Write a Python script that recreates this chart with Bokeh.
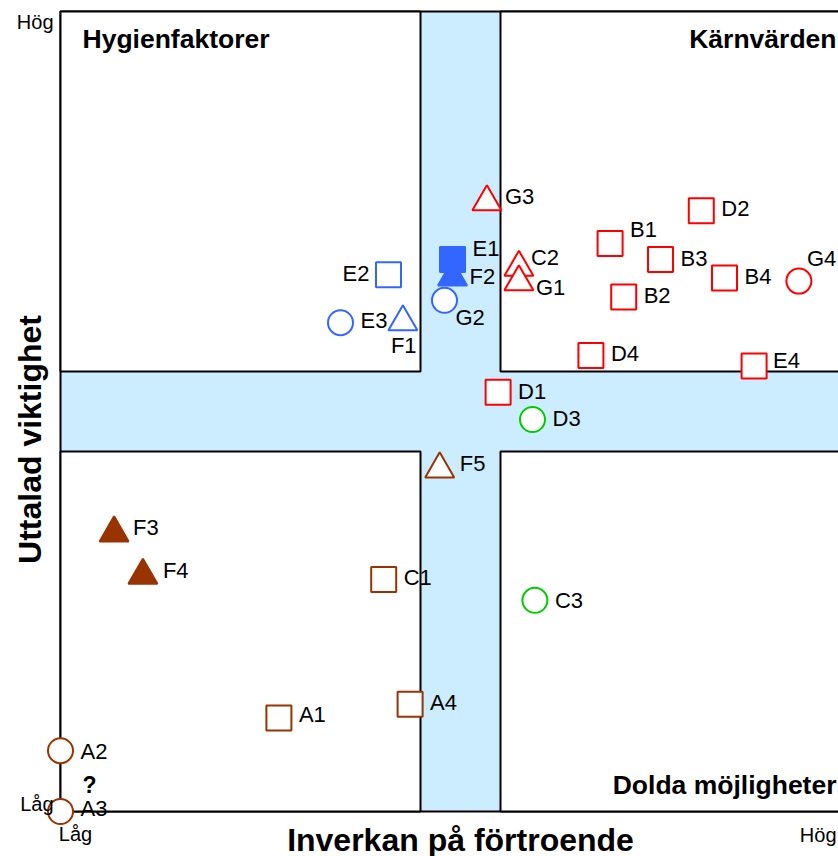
import numpy as np
from bokeh.plotting import figure
from bokeh.models import ColumnDataSource, Range1d
from bokeh.core.properties import value
from bokeh.embed import file_html
from bokeh.resources import INLINE

# ---------------- data ----------------
names = ["G3", "C2", "G1", "F2", "E1", "G2", "E2", "E3", "F1",
         "D2", "B1", "B3", "B4", "B2", "G4", "D4", "E4", "D1",
         "D3", "F5", "F3", "F4", "C1", "C3", "A1", "A4", "A2", "A3"]
x_vals = [5.33, 5.73, 5.73, 4.90, 4.90, 4.80, 4.10, 3.50, 4.28,
          8.01, 6.87, 7.50, 8.30, 7.04, 9.23, 6.63, 8.67, 5.47,
          5.90, 4.74, 0.67, 1.03, 4.04, 5.93, 2.73, 4.37, 0.00, 0.00]
y_vals = [7.62, 6.80, 6.62, 6.68, 6.90, 6.39, 6.71, 6.11, 6.12,
          7.51, 7.10, 6.90, 6.67, 6.43, 6.63, 5.70, 5.57, 5.24,
          4.90, 4.28, 3.48, 2.95, 2.90, 2.64, 1.17, 1.34, 0.76, 0.00]
groups = ["röd", "röd", "röd", "blå", "blå", "blå", "blå", "blå", "blå",
          "röd", "röd", "röd", "röd", "röd", "röd", "röd", "röd", "röd",
          "grön", "brun", "brun", "brun", "brun", "grön", "brun", "brun", "brun", "brun"]
shapes = ["triangle", "triangle", "triangle", "triangle", "square", "circle", "square", "circle", "triangle",
          "square", "square", "square", "square", "square", "circle", "square", "square", "square",
          "circle", "triangle", "triangle", "triangle", "square", "circle", "square", "square", "circle", "circle"]
filled = [False, False, False, True, True, False, False, False, False,
          False, False, False, False, False, False, False, False, False,
          False, False, True, True, False, False, False, False, False, False]

x_title = "Inverkan på förtroende"
y_title = "Uttalad viktighet"
low_label, high_label = "Låg", "Hög"
quadrant_titles = ["Hygienfaktorer", "Kärnvärden", "Dolda möjligheter"]

# ---------------- style ----------------
palette = {"röd": "#FF0000", "blå": "#3366FF", "grön": "#00CC00", "brun": "#993300"}
band_color = "#CCECFF"
FONT = "Liberation Sans"

# label offsets (screen pixels) for each point label
label_dx = [18, 12, 17, 17, 20, 11, -46, 20, -12,
            20, 20, 20, 20, 20, 8, 20, 19, 20,
            20, 20, 19, 20, 20, 20, 20, 20, 20, 20]
label_dy = [-5, -10, 6, -1, -11, 17, -1, -2, 24,
            -2, -14, -1, -1, -2, -23, -2, -5, -1,
            -1, -6, -6, -5, -2, 0, -3, -2, 1, -3]

marker_sizes = {"square": 25, "circle": 25, "triangle": 29}

src = ColumnDataSource(dict(
    x=x_vals, y=y_vals, name=names,
    marker=shapes,
    size=[marker_sizes[s] for s in shapes],
    line_color=[palette[g] for g in groups],
    fill_color=[palette[g] if f else "white" for g, f in zip(groups, filled)],
    dx=label_dx, dy=label_dy,
))

# ---------------- figure ----------------
W, H = 838, 856
x0_px, y0_px, unit = 60, 811, 80.0   # plot origin in canvas pixels, pixels per unit
p = figure(width=W, height=H, output_backend="svg", toolbar_location=None,
           x_range=Range1d(-x0_px / unit, (W - x0_px) / unit),
           y_range=Range1d((y0_px - H) / unit, y0_px / unit),
           x_axis_location=None, y_axis_location=None,
           min_border=0, min_border_left=0, min_border_right=0,
           min_border_top=0, min_border_bottom=0)
p.outline_line_color = None
p.grid.grid_line_color = None
p.background_fill_color = "white"
p.border_fill_color = "white"

lo, hi, full = 4.5, 5.5, 10.0
# light-blue cross band as background of the framed area
p.quad(left=[0], right=[full], bottom=[0], top=[full],
       fill_color=band_color, line_color="black", line_width=2)
# four white quadrants
p.quad(left=[0, hi, 0, hi], right=[lo, full, lo, full],
       bottom=[hi, hi, 0, 0], top=[full, full, lo, lo],
       fill_color="white", line_color="black", line_width=2)

# points
p.scatter(x="x", y="y", marker="marker", size="size", source=src,
          line_color="line_color", fill_color="fill_color", line_width=2)

# point labels
p.text(x="x", y="y", text="name", source=src, x_offset="dx", y_offset="dy",
       text_font=value(FONT), text_font_size="22px", text_color="black",
       text_align="left", text_baseline="middle")


def px_x(v):
    return (v - x0_px) / unit


def px_y(v):
    return (y0_px - v) / unit


def note(xp, yp, txt, size, bold=False, align="left", angle=0.0):
    p.text(x=[px_x(xp)], y=[px_y(yp)], text=[txt], angle=angle,
           text_font=value(FONT), text_font_size=size,
           text_font_style="bold" if bold else "normal",
           text_align=align, text_baseline="middle", text_color="black")


# quadrant titles
note(82, 38, quadrant_titles[0], "26.5px", bold=True)
note(836, 38, quadrant_titles[1], "26.5px", bold=True, align="right")
note(836, 784, quadrant_titles[2], "26.5px", bold=True, align="right")

# question mark
note(82, 784, "?", "23px", bold=True)

# axis end labels
note(53, 21, high_label, "20px", align="right")
note(53, 803, low_label, "20px", align="right")
note(75, 833, low_label, "20px", align="center")
note(836, 834, high_label, "20px", align="right")

# axis titles
note(460, 839, x_title, "32px", bold=True, align="center")
note(29, 439, y_title, "32px", bold=True, align="center", angle=np.pi / 2)

open("out.html", "w").write(file_html(p, INLINE))
